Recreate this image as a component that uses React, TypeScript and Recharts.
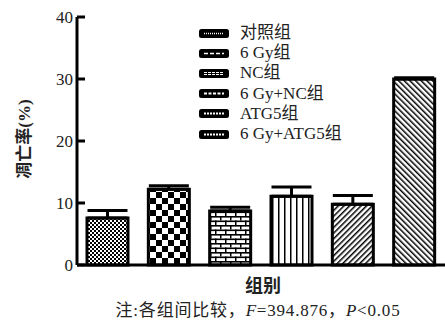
import { BarChart, Bar, Cell, ErrorBar, XAxis, YAxis } from 'recharts'

const groups = ['对照组', '6 Gy组', 'NC组', '6 Gy+NC组', 'ATG5组', '6 Gy+ATG5组']
const rates = [7.6, 12.2, 8.7, 11.1, 9.8, 30.0]
const errors = [1.2, 0.6, 0.6, 1.5, 1.4, 0.2]
const yTicks = [0, 10, 20, 30, 40]

const data = groups.map((name, i) => ({ name, value: rates[i], err: [0, errors[i]] }))

const FONT = '"Liberation Serif", "Noto Sans CJK SC", serif'
const patternIds = ['p-fine', 'p-check', 'p-brick', 'p-vert', 'p-diag1', 'p-diag2']

function YTick({ x, y, payload }: any) {
  return (
    <g>
      <line x1={x} x2={x + 8} y1={y} y2={y} stroke="#000" strokeWidth={3} />
      <text x={x - 4} y={y} dy={6} textAnchor="end" fontSize={17} fontFamily={FONT} fill="#222">
        {payload.value}
      </text>
    </g>
  )
}

// small white marks inside the black legend swatch
function Swatch({ i }: { i: number }) {
  const dash = ['1 1', '4 2', '3 1', '3 1.5', '2 1', '2 1'][i]
  return (
    <svg width={32} height={11} style={{ display: 'block' }}>
      <rect x={1} y={1} width={30} height={9} rx={2.5} fill="#000" />
      {i === 2 ? (
        <>
          <line x1={6} x2={26} y1={4.5} y2={4.5} stroke="#fff" strokeWidth={1} strokeDasharray={dash} />
          <line x1={6} x2={26} y1={6.5} y2={6.5} stroke="#fff" strokeWidth={1} strokeDasharray={dash} />
        </>
      ) : (
        <line x1={6} x2={26} y1={5.5} y2={5.5} stroke="#fff" strokeWidth={i >= 3 ? 2 : 1.5} strokeDasharray={dash} />
      )}
    </svg>
  )
}

function LegendBox() {
  return (
    <div style={{ position: 'absolute', left: 198, top: 23, fontFamily: FONT, fontSize: 17, color: '#222' }}>
      {groups.map((g, i) => (
        <div key={g} style={{ display: 'flex', alignItems: 'center', height: 20.2 }}>
          <Swatch i={i} />
          <span style={{ marginLeft: 10, lineHeight: '20px', whiteSpace: 'nowrap' }}>{g}</span>
        </div>
      ))}
    </div>
  )
}

export default function App() {
  return (
    <div style={{ position: 'absolute', left: 0, top: 0, width: 445, height: 322, background: '#fff' }}>
      <BarChart width={445} height={322} data={data} margin={{ top: 17, right: 0, bottom: 0, left: 0 }} barSize={41}>
        <defs>
          <pattern id="p-fine" width={4} height={4} patternUnits="userSpaceOnUse">
            <rect width={4} height={4} fill="#fff" />
            <rect width={2} height={2} fill="#000" />
            <rect x={2} y={2} width={2} height={2} fill="#000" />
          </pattern>
          <pattern id="p-check" width={12} height={12} patternUnits="userSpaceOnUse">
            <rect width={12} height={12} fill="#fff" />
            <rect width={6} height={6} fill="#000" />
            <rect x={6} y={6} width={6} height={6} fill="#000" />
          </pattern>
          <pattern id="p-brick" width={10} height={9} patternUnits="userSpaceOnUse">
            <rect width={10} height={9} fill="#fff" />
            <rect y={0} width={10} height={1.6} fill="#000" />
            <rect y={4.5} width={10} height={1.6} fill="#000" />
            <rect x={0} y={0} width={1.5} height={4.5} fill="#000" />
            <rect x={5} y={4.5} width={1.5} height={4.5} fill="#000" />
          </pattern>
          <pattern id="p-vert" width={6} height={6} patternUnits="userSpaceOnUse" x={2}>
            <rect width={6} height={6} fill="#fff" />
            <rect width={1.5} height={6} fill="#000" />
          </pattern>
          <pattern id="p-diag1" width={4} height={4} patternUnits="userSpaceOnUse" patternTransform="rotate(45)">
            <rect width={4} height={4} fill="#fff" />
            <rect width={1.5} height={4} fill="#000" />
          </pattern>
          <pattern id="p-diag2" width={4} height={4} patternUnits="userSpaceOnUse" patternTransform="rotate(-45)">
            <rect width={4} height={4} fill="#fff" />
            <rect width={1.5} height={4} fill="#000" />
          </pattern>
        </defs>
        <XAxis
          dataKey="name"
          height={57}
          tick={false}
          tickLine={false}
          axisLine={{ stroke: '#000', strokeWidth: 3 }}
          label={{
            content: () => (
              <g fontFamily={FONT} fill="#222">
                <text x={263} y={292} textAnchor="middle" fontSize={18} fontWeight="bold">组别</text>
                <text x={258} y={316} textAnchor="middle" fontSize={17} letterSpacing={0.8}>
                  注:各组间比较，<tspan fontStyle="italic">F</tspan>=394.876，<tspan fontStyle="italic">P</tspan>&lt;0.05
                </text>
              </g>
            ),
          }}
        />
        <YAxis
          width={77}
          domain={[0, 40]}
          ticks={yTicks}
          tickSize={0}
          tickMargin={0}
          tickLine={false}
          tick={<YTick />}
          axisLine={{ stroke: '#000', strokeWidth: 3 }}
          label={{
            content: () => (
              <text
                x={24}
                y={139}
                transform="rotate(-90 24 139)"
                textAnchor="middle"
                dy={6}
                fontSize={17}
                fontWeight="bold"
                fontFamily={FONT}
                fill="#222"
              >
                凋亡率(%)
              </text>
            ),
          }}
        />
        <Bar dataKey="value" stroke="#000" strokeWidth={3} isAnimationActive={false}>
          {data.map((d, i) => (
            <Cell key={d.name} fill={`url(#${patternIds[i]})`} />
          ))}
          <ErrorBar dataKey="err" width={20} stroke="#000" strokeWidth={3} direction="y" isAnimationActive={false} />
        </Bar>
      </BarChart>
      <LegendBox />
    </div>
  )
}
